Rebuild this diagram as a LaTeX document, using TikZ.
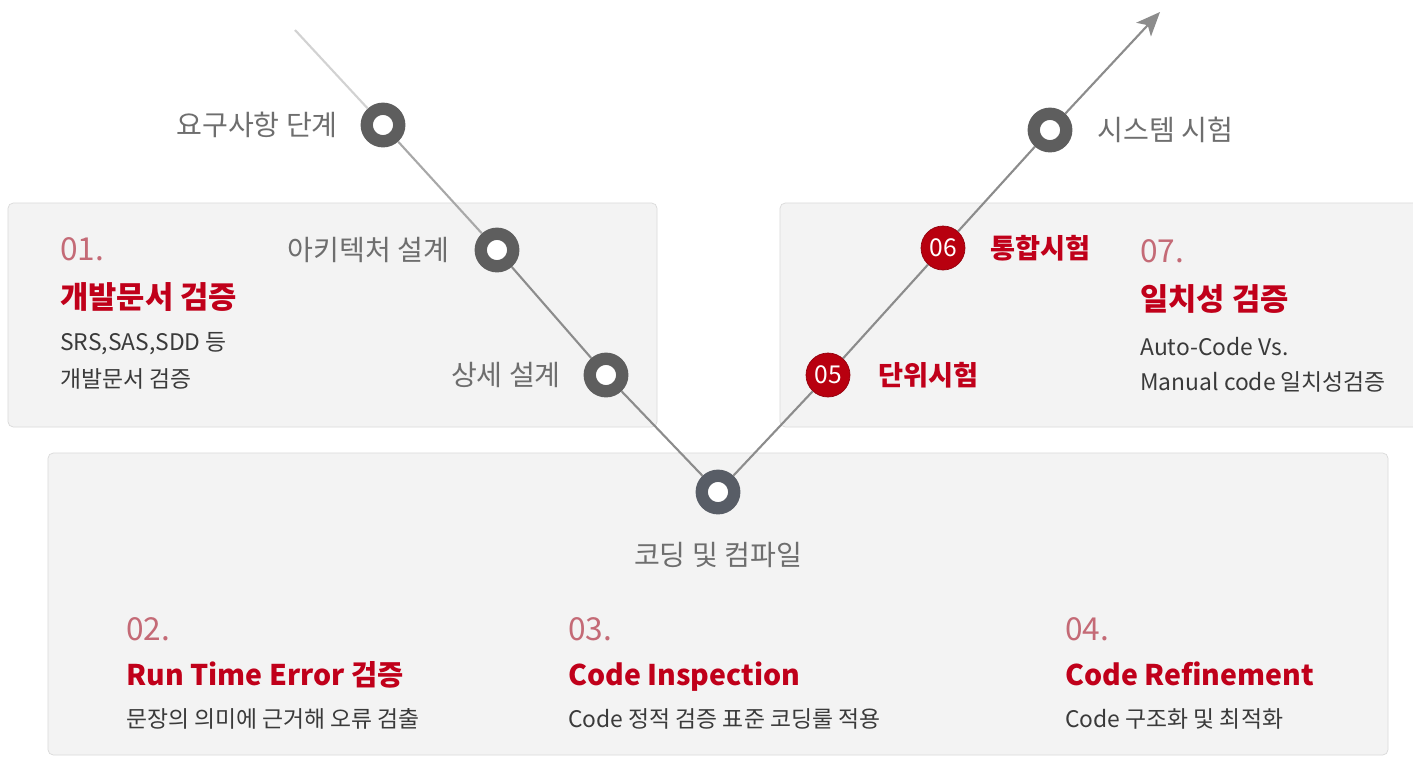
\documentclass[tikz,border=0pt]{standalone}
\usepackage{fontspec}
\setmainfont{Noto Sans CJK KR}
\usetikzlibrary{arrows.meta,positioning}
\definecolor{ringgray}{HTML}{5E5E5E}
\definecolor{codegray}{HTML}{585D66}
\definecolor{linegray}{HTML}{8C8C8C}
\definecolor{fadegray}{HTML}{D2D2D2}
\definecolor{vred}{HTML}{C0001A}
\definecolor{numred}{HTML}{C46A76}
\definecolor{ballred}{HTML}{B8000F}
\definecolor{boxgray}{HTML}{F3F3F3}
\definecolor{boxline}{HTML}{DADADA}
\definecolor{lblgray}{HTML}{6E6E6E}
\definecolor{txtgray}{HTML}{3A3A3A}
\tikzset{
  ring/.style={circle,draw=ringgray,line width=7pt,fill=white,minimum size=0.65cm,inner sep=0pt},
  redball/.style={circle,fill=ballred,draw=ballred!80!black,minimum size=0.88cm,inner sep=0pt,
    text=white,font=\fontsize{14}{16}\selectfont},
  lbl/.style={text=lblgray,font=\fontsize{16}{18}\selectfont,inner sep=0pt},
  redlbl/.style={text=vred,font=\bfseries\fontsize{15.5}{18}\selectfont,inner sep=0pt},
  num/.style={anchor=base west,text=numred,font=\fontsize{18}{20}\selectfont,inner sep=0pt},
  title/.style={anchor=base west,text=vred,font=\bfseries\fontsize{17.5}{20}\selectfont,inner sep=0pt},
  desc/.style={anchor=base west,text=txtgray,font=\fontsize{13}{15}\selectfont,inner sep=0pt},
  panel/.style={fill=boxgray,draw=boxline,rounded corners=3pt}
}
\begin{document}
\begin{tikzpicture}[x=0.02cm,y=-0.02cm]
    \useasboundingbox[fill=white] (0,0) rectangle (1413,758);
    % panels
    \draw[panel] (8,203) rectangle (657,427);
    \draw[panel] (780,203) rectangle (1425,427);
    \draw[panel] (48,453) rectangle (1388,755);

    % V line
    \coordinate (start) at (295,30);
    \coordinate (tip) at (1160,12);
    \node[ring] (req) at (383,125) {};
    \node[ring] (arch) at (497,250) {};
    \node[ring] (det) at (606,375) {};
    \node[ring,draw=codegray] (code) at (718,492) {};
    \node[redball] (unit) at (828,375) {05};
    \node[redball] (integ) at (943,248) {06};
    \node[ring] (sys) at (1050,130) {};
    \draw[fadegray,line width=1.2pt] (start) -- (req);
    \draw[linegray!60!fadegray,line width=1.2pt] (req) -- (arch);
    \draw[linegray,line width=1.2pt] (arch) -- (det);
    \draw[linegray,line width=1.2pt] (det) -- (code);
    \draw[linegray,line width=1.2pt] (code) -- (unit);
    \draw[linegray,line width=1.2pt] (unit) -- (integ);
    \draw[linegray,line width=1.2pt] (integ) -- (sys);
    \draw[linegray,line width=1.2pt,-{Stealth[length=0.48cm,width=0.4cm,inset=0.12cm]}] (sys) -- (tip);

    % stage labels
    \node[lbl,left=0.45cm of req] (reqlbl) {요구사항 단계};
    \node[lbl,left=0.5cm of arch] (archlbl) {아키텍처 설계};
    \node[lbl,left=0.45cm of det] (detlbl) {상세 설계};
    \node[lbl,below=0.55cm of code] (codelbl) {코딩 및 컴파일};
    \node[lbl,right=0.5cm of sys] (syslbl) {시스템 시험};
    \node[redlbl,right=0.5cm of integ] (integlbl) {통합시험};
    \node[redlbl,right=0.55cm of unit] (unitlbl) {단위시험};

    % 01
    \node[num] (n1) at (60,260) {01.};
    \node[title] (t1) at (60,308) {개발문서 검증};
    \node[desc] (d1a) at (60,350) {SRS,SAS,SDD 등};
    \node[desc] (d1b) at (60,387) {개발문서 검증};
    % 07
    \node[num] (n7) at (1140,262) {07.};
    \node[title] (t7) at (1140,310) {일치성 검증};
    \node[desc] (d7a) at (1140,355) {Auto-Code Vs.};
    \node[desc] (d7b) at (1140,390) {Manual code 일치성검증};
    % 02
    \node[num] (n2) at (126,640) {02.};
    \node[title,font=\bfseries\fontsize{16.2}{19}\selectfont] (t2) at (126,685) {Run Time Error 검증};
    \node[desc] (d2) at (126,727) {문장의 의미에 근거해 오류 검출};
    % 03
    \node[num] (n3) at (568,640) {03.};
    \node[title,font=\bfseries\fontsize{16.2}{19}\selectfont] (t3) at (568,685) {Code Inspection};
    \node[desc] (d3) at (568,727) {Code 정적 검증 표준 코딩룰 적용};
    % 04
    \node[num] (n4) at (1065,640) {04.};
    \node[title,font=\bfseries\fontsize{16.2}{19}\selectfont] (t4) at (1065,685) {Code Refinement};
    \node[desc] (d4) at (1065,727) {Code 구조화 및 최적화};
\end{tikzpicture}
\end{document}
